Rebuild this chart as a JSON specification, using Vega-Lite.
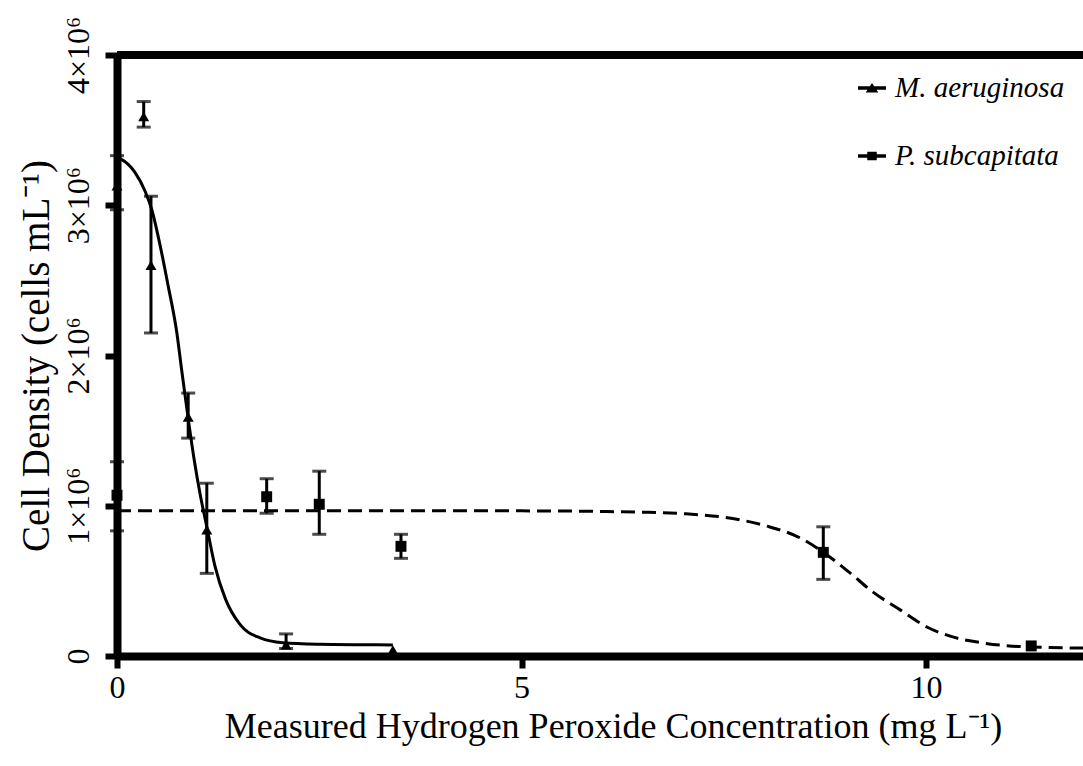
{
  "$schema": "https://vega.github.io/schema/vega-lite/v6.json",
  "width": 966,
  "height": 601,
  "autosize": {"type": "none"},
  "padding": {"left": 117, "top": 55, "right": 0, "bottom": 110},
  "background": "white",
  "config": {
    "font": "Liberation Serif",
    "view": {"stroke": null},
    "axis": {"grid": false, "domainColor": "black", "tickColor": "black", "labelColor": "black", "titleColor": "black", "titleFontWeight": "normal", "labelFont": "Liberation Serif", "titleFont": "Liberation Serif"}
  },
  "resolve": {"scale": {"shape": "independent"}},
  "datasets": {
    "points": [
      {"species": "M. aeruginosa", "x": 0, "y": 3130000},
      {"species": "M. aeruginosa", "x": 0.33, "y": 3590000},
      {"species": "M. aeruginosa", "x": 0.42, "y": 2600000},
      {"species": "M. aeruginosa", "x": 0.88, "y": 1590000},
      {"species": "M. aeruginosa", "x": 1.11, "y": 840000},
      {"species": "M. aeruginosa", "x": 2.09, "y": 75000},
      {"species": "M. aeruginosa", "x": 3.41, "y": 40000},
      {"species": "P. subcapitata", "x": 0, "y": 1070000},
      {"species": "P. subcapitata", "x": 1.85, "y": 1060000},
      {"species": "P. subcapitata", "x": 2.5, "y": 1010000},
      {"species": "P. subcapitata", "x": 3.51, "y": 730000},
      {"species": "P. subcapitata", "x": 8.73, "y": 690000},
      {"species": "P. subcapitata", "x": 11.3, "y": 67000}
    ],
    "errors": [
      {"species": "M. aeruginosa", "x": 0, "lo": 2970000, "hi": 3330000},
      {"species": "M. aeruginosa", "x": 0.33, "lo": 3520000, "hi": 3690000},
      {"species": "M. aeruginosa", "x": 0.42, "lo": 2150000, "hi": 3060000},
      {"species": "M. aeruginosa", "x": 0.88, "lo": 1450000, "hi": 1750000},
      {"species": "M. aeruginosa", "x": 1.11, "lo": 550000, "hi": 1150000},
      {"species": "M. aeruginosa", "x": 2.09, "lo": 50000, "hi": 147000},
      {"species": "P. subcapitata", "x": 0, "lo": 833000, "hi": 1293000},
      {"species": "P. subcapitata", "x": 1.85, "lo": 950000, "hi": 1180000},
      {"species": "P. subcapitata", "x": 2.5, "lo": 810000, "hi": 1230000},
      {"species": "P. subcapitata", "x": 3.51, "lo": 650000, "hi": 810000},
      {"species": "P. subcapitata", "x": 8.73, "lo": 510000, "hi": 860000}
    ],
    "fitM": [
      {"x": 0, "y": 3320000}, {"x": 0.04, "y": 3310000}, {"x": 0.22, "y": 3220000},
      {"x": 0.35, "y": 3090000}, {"x": 0.43, "y": 2970000}, {"x": 0.53, "y": 2740000},
      {"x": 0.63, "y": 2470000}, {"x": 0.74, "y": 2150000}, {"x": 0.8, "y": 1900000},
      {"x": 0.88, "y": 1580000}, {"x": 0.95, "y": 1320000}, {"x": 1.03, "y": 1070000},
      {"x": 1.11, "y": 860000}, {"x": 1.21, "y": 600000}, {"x": 1.34, "y": 380000},
      {"x": 1.52, "y": 210000}, {"x": 1.77, "y": 120000}, {"x": 2.05, "y": 88000},
      {"x": 2.5, "y": 78000}, {"x": 3.0, "y": 75000}, {"x": 3.41, "y": 74000}
    ],
    "fitP": [
      {"x": 0, "y": 967000}, {"x": 1, "y": 967000}, {"x": 2, "y": 967000}, {"x": 3, "y": 967000},
      {"x": 4, "y": 967000}, {"x": 5, "y": 966000}, {"x": 5.5, "y": 965000}, {"x": 6.0, "y": 962000},
      {"x": 6.5, "y": 957000}, {"x": 7.0, "y": 947000}, {"x": 7.61, "y": 915000}, {"x": 8.03, "y": 865000},
      {"x": 8.44, "y": 787000}, {"x": 8.73, "y": 690000}, {"x": 9.06, "y": 553000}, {"x": 9.34, "y": 427000},
      {"x": 9.68, "y": 307000}, {"x": 10.01, "y": 193000}, {"x": 10.33, "y": 127000}, {"x": 10.7, "y": 87000},
      {"x": 11.29, "y": 60000}, {"x": 11.94, "y": 53000}
    ]
  },
  "layer": [
    {
      "data": {"name": "fitM"},
      "mark": {"type": "line", "color": "black", "strokeWidth": 3, "interpolate": "monotone"},
      "encoding": {
        "x": {"field": "x", "type": "quantitative", "scale": {"domain": [0, 11.94], "nice": false, "zero": false},
          "axis": {"values": [0, 5, 10], "format": "d", "title": "Measured Hydrogen Peroxide Concentration (mg L⁻¹)", "domainWidth": 8, "tickWidth": 6, "tickSize": 12, "labelFontSize": 32, "labelPadding": 4, "titleFontSize": 36, "titlePadding": 6, "titleX": 496, "labelFlush": false}},
        "y": {"field": "y", "type": "quantitative", "scale": {"domain": [0, 4000000], "nice": false},
          "axis": {"values": [0, 1000000, 2000000, 3000000, 4000000], "labelExpr": "datum.value == 0 ? '0' : format(datum.value / 1000000, 'd') + '×10⁶'", "title": "Cell Density (cells mL⁻¹)", "domainWidth": 8, "tickWidth": 6, "tickSize": 12, "labelFontSize": 32, "labelAngle": 270, "labelAlign": "center", "labelBaseline": "bottom", "labelPadding": 10, "labelFlush": false, "titleFontSize": 39, "titlePadding": 6}}
      }
    },
    {
      "data": {"name": "fitP"},
      "mark": {"type": "line", "color": "black", "strokeWidth": 3, "strokeDash": [14, 7], "interpolate": "monotone"},
      "encoding": {
        "x": {"field": "x", "type": "quantitative"},
        "y": {"field": "y", "type": "quantitative"}
      }
    },
    {
      "data": {"name": "errors"},
      "mark": {"type": "rule", "color": "black", "strokeWidth": 3},
      "encoding": {
        "x": {"field": "x", "type": "quantitative"},
        "y": {"field": "lo", "type": "quantitative"},
        "y2": {"field": "hi"}
      }
    },
    {
      "data": {"name": "errors"},
      "mark": {"type": "tick", "color": "black", "orient": "horizontal", "size": 14, "thickness": 3},
      "encoding": {
        "x": {"field": "x", "type": "quantitative"},
        "y": {"field": "lo", "type": "quantitative"}
      }
    },
    {
      "data": {"name": "errors"},
      "mark": {"type": "tick", "color": "black", "orient": "horizontal", "size": 14, "thickness": 3},
      "encoding": {
        "x": {"field": "x", "type": "quantitative"},
        "y": {"field": "hi", "type": "quantitative"}
      }
    },
    {
      "data": {"name": "points"},
      "mark": {"type": "point", "filled": true, "color": "black", "opacity": 1, "size": 120},
      "encoding": {
        "x": {"field": "x", "type": "quantitative"},
        "y": {"field": "y", "type": "quantitative"},
        "shape": {"field": "species", "type": "nominal", "scale": {"domain": ["M. aeruginosa", "P. subcapitata"], "range": ["triangle-up", "square"]}, "legend": null}
      }
    },
    {
      "data": {"name": "points"},
      "transform": [{"filter": "false"}],
      "mark": {"type": "point", "filled": true, "color": "black", "size": 784},
      "encoding": {
        "x": {"field": "x", "type": "quantitative"},
        "y": {"field": "y", "type": "quantitative"},
        "shape": {"field": "species", "type": "nominal",
          "scale": {"domain": ["M. aeruginosa", "P. subcapitata"], "range": ["M-1,-0.12H1V0.12H-1Z M-0.45,0.32L0,-0.36L0.45,0.32Z", "M-1,-0.12H1V0.12H-1Z M-0.34,-0.3H0.34V0.3H-0.34Z"]},
          "legend": {"orient": "none", "legendX": 740, "legendY": 18, "title": null, "labelFont": "Liberation Serif", "labelFontStyle": "italic", "labelFontSize": 29, "labelColor": "black", "labelLimit": 400, "symbolSize": 784, "symbolFillColor": "black", "symbolOpacity": 1, "rowPadding": 38, "labelOffset": 8}}
      }
    },
    {
      "data": {"values": [{}]},
      "mark": {"type": "rule", "color": "black", "strokeWidth": 8},
      "encoding": {"y": {"datum": 4000000}}
    }
  ]
}
